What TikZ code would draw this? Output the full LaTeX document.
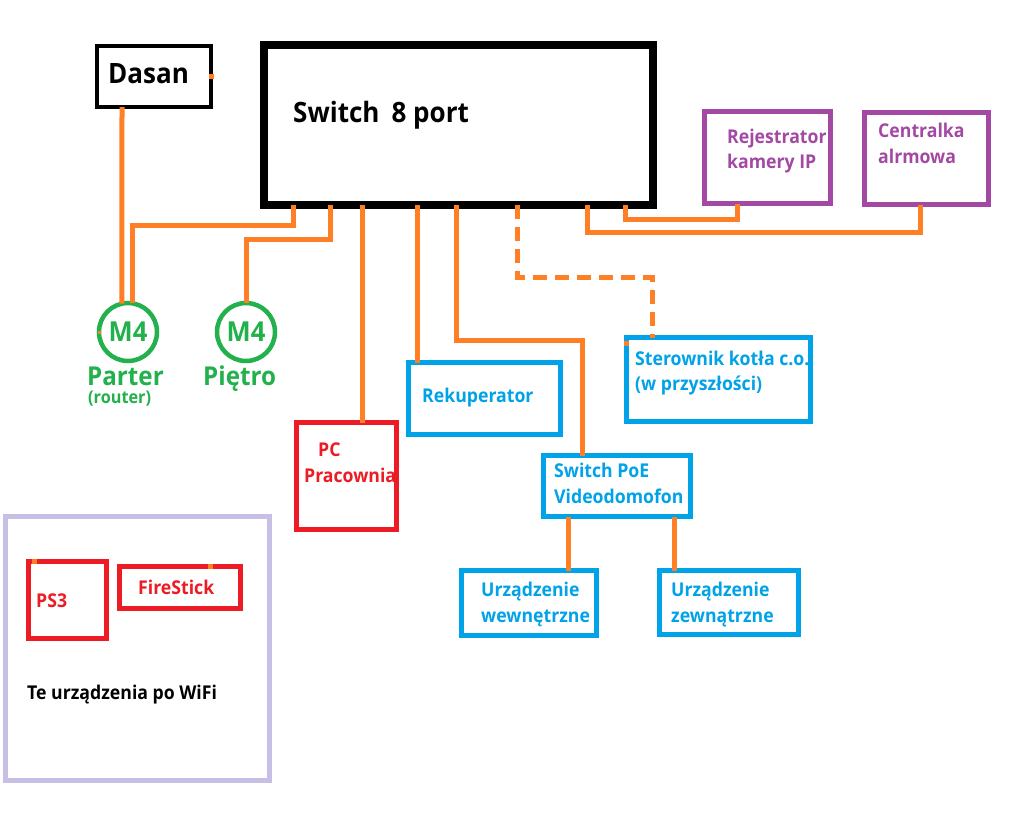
\documentclass[tikz,border=0pt]{standalone}
\usepackage{fontspec}
\setmainfont[FakeStretch=0.93]{Open Sans}
\definecolor{lineorange}{HTML}{FF7F27}
\definecolor{mspurple}{HTML}{A349A4}
\definecolor{msblue}{HTML}{00A2E8}
\definecolor{msred}{HTML}{ED1C24}
\definecolor{msgreen}{HTML}{22B14C}
\definecolor{mslav}{HTML}{C8BFE7}
\begin{document}
\begin{tikzpicture}[x=1pt,y=-1pt,
  box/.style={draw,rectangle,inner sep=0pt,outer sep=0pt,line width=5pt},
  ring/.style={draw=msgreen,circle,inner sep=0pt,outer sep=0pt,line width=4.5pt,minimum size=58pt,
    text=msgreen,font=\fontsize{27.5}{27.5}\selectfont\bfseries},
  wire/.style={draw=lineorange,line width=5pt},
  lbl/.style={anchor=base west,inner sep=0pt,font=\fontsize{19}{19}\selectfont\bfseries},
  big/.style={anchor=base west,inner sep=0pt,font=\fontsize{28}{28}\selectfont\bfseries},
  glbl/.style={anchor=base west,inner sep=0pt,text=msgreen,font=\fontsize{26}{26}\selectfont\bfseries},
  dot/.style={fill=lineorange,inner sep=0pt,outer sep=0pt,minimum size=5pt,rectangle}
]
\useasboundingbox[fill=white] (0,0) rectangle (1020,816);

% boxes
\node[box,line width=4.5pt,minimum width=114pt,minimum height=61pt] (dasan) at (154,76.5) {};
\node[box,line width=8pt,minimum width=388.5pt,minimum height=159pt] (sw) at (458.25,125) {};
\node[box,draw=mspurple,minimum width=126pt,minimum height=92pt] (rej) at (767.5,157.5) {};
\node[box,draw=mspurple,minimum width=124pt,minimum height=92pt] (cen) at (926.5,158.5) {};
\node[ring] (parter) at (128,332) {M4};
\node[ring] (pietro) at (246,332) {M4};
\node[box,draw=msred,minimum width=100pt,minimum height=107pt] (pc) at (346.5,476) {};
\node[box,draw=msblue,minimum width=152pt,minimum height=72pt] (rek) at (484.5,398.5) {};
\node[box,draw=msblue,minimum width=184pt,minimum height=84pt] (ster) at (718.5,379.5) {};
\node[box,draw=msblue,minimum width=147pt,minimum height=61pt] (poe) at (617,486) {};
\node[box,draw=msblue,minimum width=135pt,minimum height=65pt] (uw) at (529,603) {};
\node[box,draw=msblue,minimum width=139pt,minimum height=64pt] (uz) at (729,602.5) {};
\node[box,draw=mslav,line width=4.5pt,minimum width=264pt,minimum height=264pt] (wifi) at (137.5,648.5) {};
\node[box,draw=msred,minimum width=78pt,minimum height=77pt] (ps3) at (67.5,600) {};
\node[box,draw=msred,minimum width=121pt,minimum height=42pt] (fire) at (180,587.5) {};

% texts
\node[big] (tdasan) at (108,83) {Dasan};
\node[big] (tsw) at (293,122) {Switch\hspace{12pt}8 port};
\node[lbl,text=mspurple] (trej1) at (727,143) {Rejestrator};
\node[lbl,text=mspurple] (trej2) at (727,168) {kamery IP};
\node[lbl,text=mspurple] (tcen1) at (878,137) {Centralka};
\node[lbl,text=mspurple] (tcen2) at (878,163) {alrmowa};
\node[glbl] (tparter) at (87,385) {Parter};
\node[glbl] (tpietro) at (203,385) {Piętro};
\node[anchor=base west,inner sep=0pt,text=msgreen,font=\fontsize{17.5}{17.5}\selectfont\bfseries] (trouter) at (88,403) {(router)};
\node[lbl,text=msred] (tpc1) at (318,456) {PC};
\node[lbl,text=msred] (tpc2) at (304,482) {Pracownia};
\node[lbl,text=msblue] (trek) at (422,402) {Rekuperator};
\node[lbl,text=msblue] (tster1) at (635,365) {Sterownik kotła c.o.};
\node[lbl,text=msblue] (tster2) at (635,390) {(w przyszłości)};
\node[lbl,text=msblue] (tpoe1) at (554,477) {Switch PoE};
\node[lbl,text=msblue] (tpoe2) at (554,503) {Videodomofon};
\node[lbl,text=msblue] (tuw1) at (481,596) {Urządzenie};
\node[lbl,text=msblue] (tuw2) at (481,622) {wewnętrzne};
\node[lbl,text=msblue] (tuz1) at (671,596) {Urządzenie};
\node[lbl,text=msblue] (tuz2) at (671,622) {zewnątrzne};
\node[lbl,text=msred] (tps3) at (36,607) {PS3};
\node[lbl,text=msred] (tfire) at (138,594) {FireStick};
\node[lbl] (twifi) at (27,699) {Te urządzenia po WiFi};

% connectors
\draw[wire] ([xshift=25pt]dasan.south west) -- (parter.102);
\draw[wire] ([xshift=29.5pt]sw.south west) -- ++(0,20.5) -| (parter.82);
\draw[wire] ([xshift=66pt]sw.south west) -- ++(0,34.5) -| (pietro.north);
\draw[wire] ([xshift=98pt]sw.south west) -- ([xshift=65.5pt]pc.north west);
\draw[wire] ([xshift=153pt]sw.south west) -- ([xshift=8.5pt]rek.north west);
\draw[wire] ([xshift=192pt]sw.south west) -- ++(0,136) -| ([xshift=38.5pt]poe.north west);
\draw[wire,dash pattern=on 14pt off 8pt] ([xshift=253.5pt]sw.south west) -- ++(0,73) -| ([xshift=25.5pt]ster.north west);
\draw[wire] ([xshift=323pt]sw.south west) -- ++(0,27.5) -| ([xshift=55.5pt]cen.south west);
\draw[wire] ([xshift=361pt]sw.south west) -- ++(0,14.5) -| ([xshift=32.5pt]rej.south west);
\draw[wire] ([xshift=24.5pt]poe.south west) -- ([xshift=106.5pt]uw.north west);
\draw[wire] ([xshift=130.5pt]poe.south west) -- ([xshift=14.5pt]uz.north west);

% small orange marks
\node[dot] (d1) at ([yshift=-0.5pt]dasan.east) {};
\node[dot] (d2) at ([yshift=-5.5pt]ster.north west) {};
\node[dot] (d3) at ([xshift=5.5pt]ps3.north west) {};
\node[dot] (d4) at ([xshift=90.5pt]fire.north west) {};
\node[dot,minimum size=3pt] (d5) at (parter.west) {};
\end{tikzpicture}
\end{document}
